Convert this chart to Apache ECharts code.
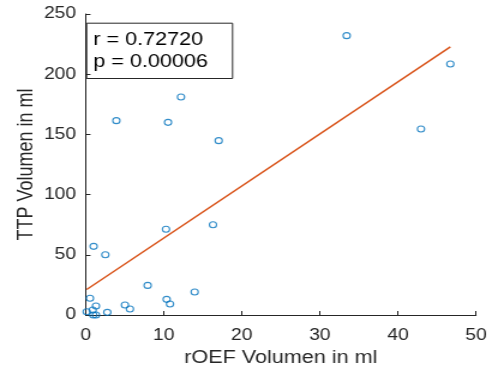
<!DOCTYPE html>
<html>
<head>
<meta charset="utf-8">
<script src="https://cdn.jsdelivr.net/npm/echarts@6/dist/echarts.min.js"></script>
<style>
html,body{margin:0;padding:0;background:#fff;overflow:hidden;}
#wrap{width:492px;height:374px;overflow:hidden;}
#chart{width:410px;height:374px;transform:scaleX(1.2);transform-origin:0 0;}
</style>
</head>
<body>
<div id="wrap"><div id="chart"></div></div>
<script>
// rOEF volume (ml) and TTP volume (ml) per case
const roef = [33.43, 46.71, 42.95, 12.21, 3.93, 10.55, 17.04, 10.29, 16.31, 1.02, 2.52, 7.94, 13.96, 0.55, 10.37, 10.8, 5.03, 5.67, 1.32, 0.13, 2.77, 0.9, 0.97, 1.32];
const ttp  = [232.0, 208.5, 154.5, 181.1, 161.4, 160.0, 144.8, 71.2, 75.0, 57.0, 50.1, 24.6, 19.1, 13.9, 13.0, 9.1, 8.3, 5.0, 7.5, 2.7, 2.2, 4.2, 0, 0];
// regression line end points
const fitX = [0.13, 46.71];
const fitY = [21.2, 222.7];
const xTicks = [0, 10, 20, 30, 40, 50];
const yTicks = [0, 50, 100, 150, 200, 250];
const statLines = ['r = 0.72720', 'p = 0.00006'];

const axisColor = '#262626';
const font = 'Liberation Sans, Arial, sans-serif';

const chart = echarts.init(document.getElementById('chart'), null, {renderer: 'canvas'});
chart.setOption({
  animation: false,
  backgroundColor: '#fff',
  grid: {left: 71.4, right: 13.3, top: 14, bottom: 59, containLabel: false},
  xAxis: {
    type: 'value', min: xTicks[0], max: xTicks[xTicks.length - 1], interval: 10,
    name: 'rOEF Volumen in ml', nameLocation: 'middle', nameGap: 34, nameMoveOverlap: false,
    nameTextStyle: {color: axisColor, fontSize: 18, fontFamily: font},
    axisLine: {show: true, onZero: false, lineStyle: {color: axisColor, width: 1}},
    axisTick: {show: true, inside: true, length: 4, lineStyle: {color: axisColor}},
    axisLabel: {color: axisColor, fontSize: 16, fontFamily: font, margin: 13},
    splitLine: {show: false}
  },
  yAxis: {
    type: 'value', min: yTicks[0], max: yTicks[yTicks.length - 1], interval: 50,
    name: 'TTP Volumen in ml', nameLocation: 'middle', nameGap: 40, nameMoveOverlap: false,
    nameTextStyle: {color: axisColor, fontSize: 18, fontFamily: font},
    axisLine: {show: true, onZero: false, lineStyle: {color: axisColor, width: 1}},
    axisTick: {show: true, inside: true, length: 4, lineStyle: {color: axisColor}},
    axisLabel: {color: axisColor, fontSize: 16, fontFamily: font, margin: 8},
    splitLine: {show: false}
  },
  series: [
    {
      type: 'line',
      data: fitX.map((x, i) => [x, fitY[i]]),
      showSymbol: false, symbol: 'none',
      lineStyle: {color: '#D95319', width: 1.5},
      z: 2
    },
    {
      type: 'scatter',
      data: roef.map((x, i) => [x, ttp[i]]),
      symbol: 'circle', symbolSize: 6,
      itemStyle: {color: 'rgba(0,0,0,0)', borderColor: '#0072BD', borderWidth: 1.1},
      clip: false,
      z: 3
    }
  ],
  graphic: [
    {
      type: 'group', left: 71.7, top: 22.7,
      children: [
        {type: 'rect', shape: {x: 0, y: 0, width: 121.6, height: 55.3},
         style: {fill: '#fff', stroke: axisColor, lineWidth: 1}},
        {type: 'text', x: 5.5, y: 5, style: {text: statLines.join('\n'), fill: '#000', font: '18px ' + font, lineHeight: 22.7}}
      ]
    }
  ]
});
</script>
</body>
</html>
